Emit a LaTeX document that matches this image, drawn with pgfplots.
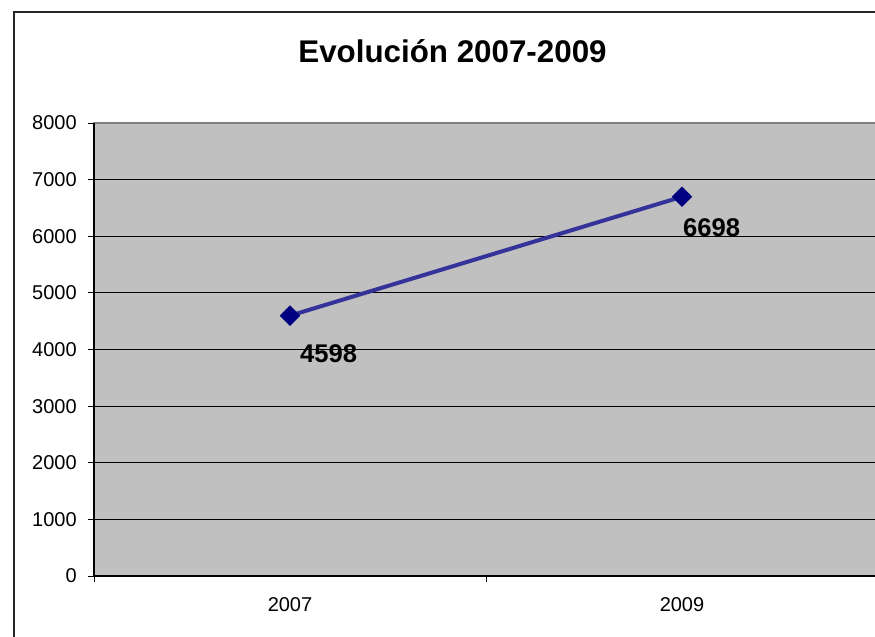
\documentclass[border=0pt]{standalone}
\usepackage{fontspec}
\setmainfont{Liberation Sans}
\usepackage{pgfplots}
\pgfplotsset{compat=1.18}
\definecolor{plotgray}{RGB}{192,192,192}
\definecolor{framegray}{RGB}{128,128,128}
\definecolor{linecol}{RGB}{51,51,153}
\definecolor{markcol}{RGB}{0,0,128}
\begin{document}
\begin{tikzpicture}[x=0.75pt,y=-0.75pt]
\path[use as bounding box] (0,0) rectangle (875,636);
\clip (0,0) rectangle (875,636);
\draw[line width=1.5pt, black!85] (14,12) rectangle (893,660);
\node[font=\bfseries\fontsize{23.5}{28}\selectfont, inner sep=0pt] at (452.5,51.5) {Evolución 2007-2009};
\begin{axis}[
  at={(70.5pt,-432pt)}, anchor=south west,
  scale only axis, width=588pt, height=339.75pt,
  xmin=0, xmax=2, ymin=0, ymax=8000,
  axis lines*=left, axis line style={-, black, line width=0.9pt},
  axis background/.style={fill=plotgray, draw=framegray, line width=0.9pt},
  xtick={0,1,2}, xticklabels={2007,2009}, x tick label as interval,
  ytick={0,1000,...,7000},
  extra y ticks={8000}, extra y tick style={grid=none},
  tick align=outside, major tick length=4.5pt,
  tick style={black, line width=0.75pt},
  ymajorgrids, xmajorgrids=false,
  major grid style={black, line width=0.75pt},
  /pgf/number format/assume math mode=true,
  /pgf/number format/1000 sep={},
  scaled ticks=false,
  ticklabel style={font=\fontsize{15}{18}\selectfont, inner sep=0pt},
  yticklabel style={anchor=east, xshift=-8.25pt},
  xticklabel style={anchor=north, yshift=-11.5pt},
  clip=false,
]
\addplot[color=linecol, line width=3pt,
  mark=square*, mark size=5.3pt,
  mark options={fill=markcol, draw=markcol, line width=0.2pt, rotate=45},
  point meta=explicit symbolic,
  visualization depends on={\thisrow{dx} \as \dx},
  visualization depends on={\thisrow{dy} \as \dy},
  nodes near coords,
  nodes near coords style={anchor=west, inner sep=0pt, text=black,
    font=\bfseries\fontsize{19.2}{23}\selectfont,
    xshift=0.75*\dx pt, yshift=-0.75*\dy pt},
] table[meta=label] {
x    y     dx   dy    label
0.5  4598  10   38    4598
1.5  6698  1    31    6698
};
\end{axis}
\end{tikzpicture}
\end{document}
